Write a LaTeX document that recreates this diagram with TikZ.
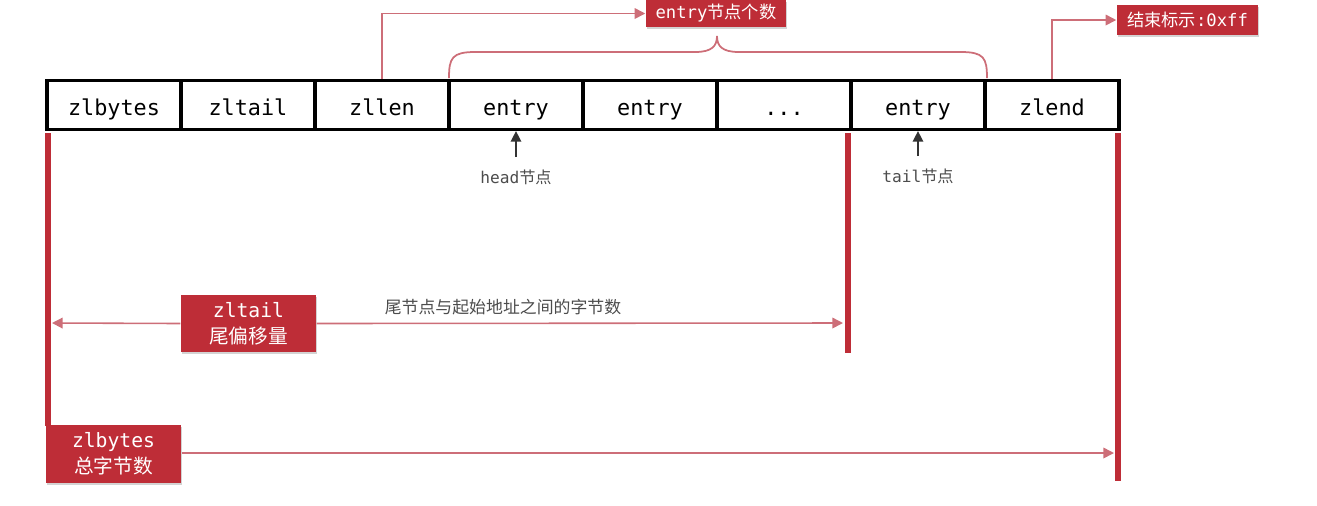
\documentclass[tikz,border=0pt]{standalone}
\usepackage{fontspec}
\setmainfont{DejaVu Sans Mono}
\newfontfamily\cn{Noto Sans CJK SC}
\usetikzlibrary{arrows.meta,shadows}
\definecolor{ln}{RGB}{205,110,120}
\definecolor{rb}{RGB}{190,45,55}
\newcommand\mydots{...}
\begin{document}
\begin{tikzpicture}[x=0.01cm,y=-0.01cm,
 cell/.style={draw=black,line width=0.9pt,minimum width=1.34cm,minimum height=0.49cm,inner sep=0pt,text height=1.5ex,text depth=0.4ex,font=\fontsize{6.2}{7}\selectfont},
 redbox/.style={fill=rb,text=white,inner sep=0pt,align=center,font=\fontsize{5.6}{7.4}\selectfont,drop shadow={shadow xshift=0.4pt,shadow yshift=-0.6pt,opacity=0.35}},
 conn/.style={draw=ln,line width=0.45pt},
 tip/.style={-{Triangle[length=3pt,width=3pt]}},
 bar/.style={draw=rb,line width=1.7pt},
 small/.style={font=\fontsize{4.6}{5.5}\selectfont,text=black!70}]
\useasboundingbox (0,0) rectangle (1317,505);
% cells
\foreach \n/\t [count=\i from 0] in {c1/zlbytes,c2/zltail,c3/zllen,c4/entry,c5/entry,c6/\mydots,c7/entry,c8/zlend}{
  \node[cell] (\n) at ({114+134*\i},105) {\t};
}
% red bars
\coordinate (b1t) at (48,133); \coordinate (b1b) at (48,426);
\coordinate (b2t) at (848,133); \coordinate (b2b) at (848,353);
\coordinate (b3t) at (1118,133); \coordinate (b3b) at (1118,481);
\draw[bar] (b1t)--(b1b); \draw[bar] (b2t)--(b2b); \draw[bar] (b3t)--(b3b);
% red boxes
\node[redbox,minimum width=1.35cm,minimum height=0.57cm] (zt) at (248.5,323.5) {zltail\\{\cn 尾偏移量}};
\node[redbox,minimum width=1.35cm,minimum height=0.58cm] (zb) at (113.5,454) {zlbytes\\{\cn 总字节数}};
\node[redbox,minimum width=1.40cm,minimum height=0.27cm,font=\fontsize{4.9}{6}\selectfont] (ec) at (716,13.5) {entry{\cn 节点个数}};
\node[redbox,minimum width=1.41cm,minimum height=0.30cm,font=\fontsize{4.9}{6}\selectfont] (ef) at (1187.5,20) {{\cn 结束标示}:0xff};
% offset arrows
\coordinate (a1) at (52,323); \coordinate (a2) at (843,323); \coordinate (a3) at (1114,453);
\draw[conn,tip] (zt.west) -- (a1);
\draw[conn,tip] (zt.east) -- (a2);
\draw[conn,tip] (zb.east|-a3) -- (a3);
\node[small,font=\cn\fontsize{4.8}{6}\selectfont] (lt) at (503,307) {尾节点与起始地址之间的字节数};
% head / tail
\node[small] (hd) at (516,177) {head{\cn 节点}};
\node[small] (tl) at (918,176) {tail{\cn 节点}};
\draw[black!80,line width=0.4pt,tip] (hd.north) -- (c4.south);
\draw[black!80,line width=0.4pt,tip] (tl.north) -- (c7.south);
% top connectors
\draw[conn,tip] (c3.north) -- (c3.north|-ec.west) -- (ec.west);
\draw[conn,tip] (c8.north) -- (c8.north|-ef.west) -- (ef.west);
% brace
\coordinate (br1) at (449,78); \coordinate (br2) at (987,78); \coordinate (brt) at (717,36);
\draw[conn,line width=0.5pt] (br1) .. controls (449,58) and (452,52) .. (475,52) -- (695,52)
  .. controls (712,52) and (717,46) .. (brt) .. controls (717,46) and (722,52) .. (739,52)
  -- (961,52) .. controls (984,52) and (987,58) .. (br2);
\end{tikzpicture}
\end{document}
